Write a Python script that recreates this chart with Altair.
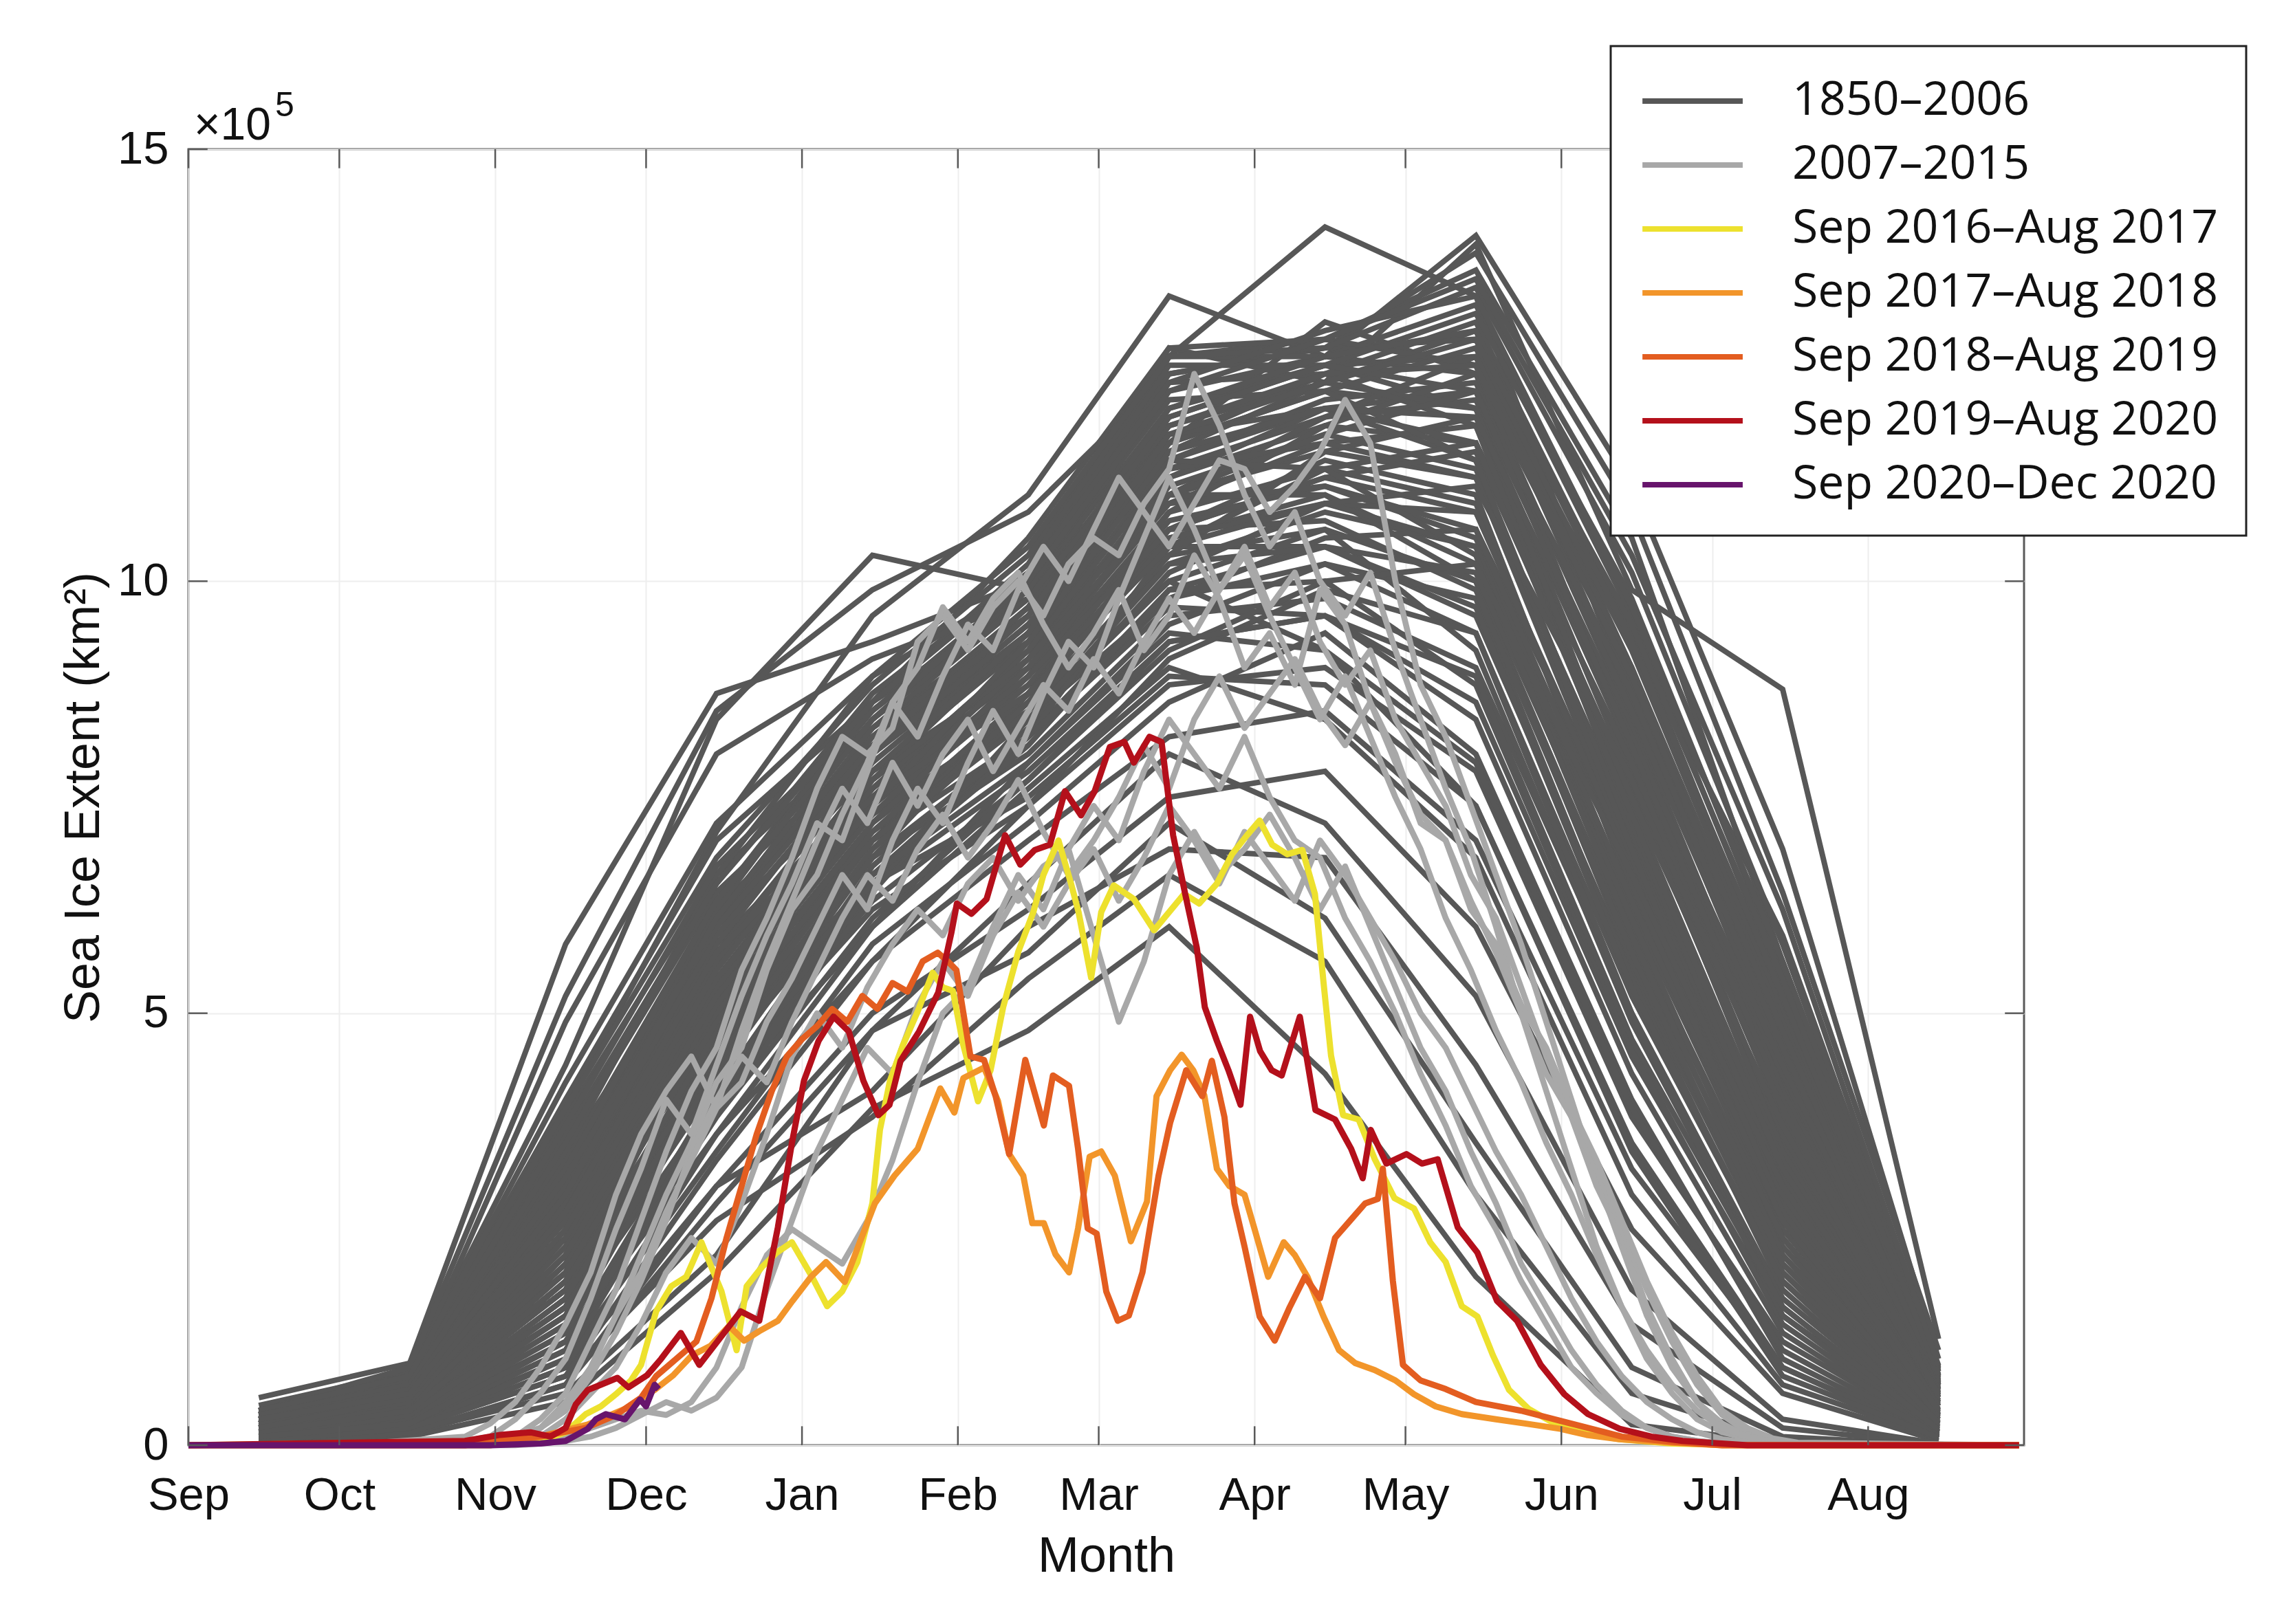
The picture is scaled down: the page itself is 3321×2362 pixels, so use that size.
import altair as alt
import pandas as pd

# ---------------- axis categories / labels ----------------
MONTH_LABELS = ["Sep", "Oct", "Nov", "Dec", "Jan", "Feb", "Mar", "Apr", "May", "Jun", "Jul", "Aug"]
MONTH_START_DAYS = [0, 30, 61, 91, 122, 153, 181, 212, 242, 273, 303, 334]   # days since 1 Sep
Y_TICKS = [0, 5, 10, 15]
SERIES = ["1850–2006", "2007–2015", "Sep 2016–Aug 2017", "Sep 2017–Aug 2018",
          "Sep 2018–Aug 2019", "Sep 2019–Aug 2020", "Sep 2020–Dec 2020"]
COLORS = ["#575757", "#a8a8a8", "#ede12e", "#f2952a", "#e35d20", "#b4101b", "#67146c"]

# ---------------- 1850–2006: monthly values (x10^5 km2), mid-month ----------------
DARK_DAYS = [14, 44, 75, 105, 136, 167, 195, 226, 256, 287, 317, 348]
DARK_TOP = [
    [0.55, 0.95, 5.8, 8.7, 9.3, 10.0, 11.6, 13.0, 12.4, 9.4, 5.9, 0.9],
    [0.46, 0.85, 4.4, 8.4, 10.3, 9.9, 12.6, 14.1, 13.3, 8.6, 5.1, 0.8],
    [0.30, 0.70, 3.9, 7.1, 9.6, 11.0, 13.3, 12.6, 14.0, 11.1, 6.9, 1.0],
    [0.22, 0.60, 3.0, 6.3, 8.6, 10.5, 12.7, 12.3, 13.9, 9.9, 8.75, 1.23],
    [0.36, 0.80, 4.9, 8.0, 9.1, 9.8, 12.6, 12.8, 13.6, 10.5, 5.6, 0.7],
    [0.40, 0.90, 5.2, 8.5, 9.9, 10.8, 12.4, 12.7, 13.8, 10.8, 6.4, 1.1],
]
DARK_LOW = [
    [0.00, 0.10, 0.5, 2.0, 3.9, 4.8, 6.0, 4.3, 1.95, 0.24, 0.02, 0.0],
    [0.05, 0.20, 0.8, 2.6, 3.8, 5.4, 6.6, 5.6, 2.9, 0.6, 0.05, 0.0],
    [0.00, 0.15, 0.6, 2.2, 4.8, 5.7, 7.2, 6.1, 3.5, 0.9, 0.1, 0.0],
    [0.02, 0.12, 0.7, 3.0, 4.1, 6.0, 6.9, 6.8, 4.4, 1.4, 0.2, 0.01],
]
DARK_MID_A = [
    [0.05, 0.20, 0.9, 3.0, 5.0, 6.2, 7.5, 7.8, 6.0, 2.5, 0.6, 0.05],
    [0.10, 0.30, 1.2, 3.6, 5.6, 7.0, 8.2, 8.5, 7.0, 3.2, 0.9, 0.10],
    [0.00, 0.15, 0.7, 2.8, 4.8, 6.5, 8.0, 7.2, 5.2, 1.8, 0.3, 0.02],
    [0.15, 0.40, 1.8, 4.2, 6.2, 7.4, 8.8, 9.0, 7.8, 3.8, 1.2, 0.15],
    [0.20, 0.45, 2.2, 4.8, 6.5, 7.8, 9.3, 9.6, 8.6, 4.5, 1.5, 0.20],
    [0.10, 0.35, 1.5, 4.0, 6.0, 7.6, 9.0, 8.4, 6.8, 2.9, 0.7, 0.08],
    [0.25, 0.55, 2.6, 5.2, 7.0, 8.2, 9.8, 10.2, 9.4, 5.2, 1.9, 0.25],
    [0.05, 0.25, 1.0, 3.4, 5.8, 7.2, 8.6, 9.4, 8.0, 4.0, 1.0, 0.10],
    [0.30, 0.60, 3.0, 5.6, 7.3, 8.5, 10.0, 10.6, 10.0, 5.8, 2.2, 0.30],
    [0.15, 0.45, 2.0, 4.6, 6.8, 8.0, 9.6, 9.8, 9.0, 5.0, 1.7, 0.22],
    [0.20, 0.50, 2.4, 5.0, 7.2, 8.6, 10.2, 10.8, 10.4, 6.2, 2.5, 0.35],
    [0.10, 0.30, 1.4, 4.4, 6.6, 8.2, 9.9, 10.0, 8.8, 4.6, 1.4, 0.15],
    [0.35, 0.70, 3.4, 6.0, 7.8, 9.0, 10.6, 11.2, 10.8, 6.8, 2.8, 0.40],
    [0.20, 0.40, 1.9, 5.2, 7.5, 8.8, 10.4, 10.4, 9.6, 5.5, 2.0, 0.25],
    [0.25, 0.55, 2.8, 5.8, 7.6, 9.2, 11.0, 11.5, 11.2, 7.2, 3.2, 0.45],
    [0.05, 0.25, 1.1, 3.8, 6.4, 8.4, 10.0, 9.2, 7.4, 3.5, 0.9, 0.08],
    [0.30, 0.65, 3.2, 6.2, 8.0, 9.4, 11.2, 11.8, 11.6, 7.6, 3.5, 0.50],
    [0.15, 0.35, 1.6, 4.8, 7.0, 8.7, 10.5, 11.0, 10.2, 6.0, 2.3, 0.30],
    [0.40, 0.75, 3.8, 6.6, 8.3, 9.6, 11.4, 12.0, 12.2, 8.2, 4.0, 0.60],
]
DARK_MID_B = [
    [0.20, 0.50, 2.3, 5.4, 7.4, 8.9, 10.8, 11.3, 10.9, 6.6, 2.7, 0.35],
    [0.10, 0.30, 1.3, 4.5, 6.9, 8.5, 10.3, 10.6, 9.2, 4.9, 1.6, 0.18],
    [0.25, 0.60, 2.9, 6.0, 8.2, 9.7, 11.6, 12.2, 12.0, 8.0, 3.8, 0.55],
    [0.35, 0.70, 3.5, 6.4, 8.1, 9.3, 11.0, 11.0, 10.0, 5.6, 2.1, 0.28],
    [0.15, 0.40, 2.1, 5.0, 7.1, 8.4, 9.8, 10.5, 10.6, 6.9, 3.0, 0.40],
    [0.20, 0.45, 2.5, 5.6, 7.7, 9.1, 11.2, 12.0, 11.4, 7.0, 2.9, 0.38],
    [0.05, 0.20, 0.9, 3.6, 6.0, 7.9, 9.5, 10.2, 9.8, 5.4, 1.8, 0.20],
    [0.30, 0.65, 3.1, 6.1, 8.4, 9.9, 12.0, 12.5, 12.6, 8.6, 4.4, 0.65],
    [0.20, 0.50, 2.2, 5.3, 7.6, 9.0, 10.9, 11.6, 11.8, 7.8, 3.6, 0.50],
    [0.10, 0.35, 1.7, 4.7, 7.0, 8.6, 10.6, 11.4, 11.0, 6.4, 2.4, 0.30],
    [0.40, 0.80, 4.0, 7.0, 8.6, 9.8, 12.2, 12.6, 12.4, 8.4, 4.2, 0.62],
    [0.25, 0.55, 2.7, 5.9, 8.0, 9.5, 11.5, 12.3, 12.9, 9.0, 4.8, 0.72],
    [0.15, 0.40, 1.8, 5.1, 7.3, 8.8, 10.7, 11.1, 10.5, 6.3, 2.6, 0.32],
    [0.30, 0.60, 3.3, 6.3, 8.5, 10.0, 12.4, 12.7, 12.8, 8.8, 4.6, 0.70],
    [0.05, 0.25, 1.2, 4.1, 6.7, 8.3, 10.1, 10.9, 10.8, 6.7, 2.8, 0.36],
    [0.20, 0.45, 2.4, 5.5, 7.8, 9.3, 11.3, 11.9, 12.1, 8.3, 4.1, 0.58],
    [0.35, 0.70, 3.6, 6.5, 8.7, 10.1, 12.5, 12.5, 12.0, 7.7, 3.4, 0.48],
    [0.10, 0.30, 1.5, 4.6, 7.0, 8.5, 10.3, 11.5, 11.9, 8.1, 4.3, 0.66],
    [0.25, 0.55, 2.6, 5.7, 7.9, 9.4, 11.6, 12.4, 13.0, 9.4, 5.1, 0.78],
]
DARK_MID_C = [
    [0.15, 0.35, 1.9, 5.0, 7.4, 9.1, 11.1, 11.7, 11.3, 7.1, 3.1, 0.42],
    [0.30, 0.65, 3.0, 6.2, 8.6, 10.2, 12.6, 12.6, 13.2, 9.6, 5.3, 0.80],
    [0.20, 0.50, 2.0, 5.2, 7.5, 9.2, 11.4, 12.1, 12.3, 8.5, 4.5, 0.68],
    [0.10, 0.30, 1.4, 4.3, 6.8, 8.7, 10.8, 11.8, 12.4, 8.9, 4.7, 0.74],
    [0.40, 0.80, 3.9, 6.8, 8.8, 10.3, 12.7, 12.8, 12.5, 8.0, 3.9, 0.56],
    [0.25, 0.60, 2.8, 6.0, 8.3, 9.8, 11.9, 12.5, 13.1, 9.8, 5.5, 0.85],
    [0.15, 0.40, 2.2, 5.4, 7.7, 9.4, 11.6, 12.2, 12.7, 9.2, 5.0, 0.76],
    [0.05, 0.20, 1.0, 3.9, 6.5, 8.2, 10.4, 11.3, 11.6, 7.9, 3.8, 0.52],
    [0.30, 0.70, 3.4, 6.6, 8.9, 10.4, 12.6, 12.7, 13.4, 10.1, 5.8, 0.88],
    [0.20, 0.45, 2.5, 5.6, 8.0, 9.6, 11.8, 12.3, 12.0, 7.4, 3.3, 0.46],
    [0.10, 0.35, 1.6, 4.9, 7.2, 8.9, 11.0, 11.9, 12.6, 9.0, 4.9, 0.72],
    [0.35, 0.75, 3.7, 6.7, 8.5, 9.9, 12.3, 12.4, 11.8, 7.2, 3.0, 0.40],
    [0.20, 0.50, 2.3, 5.3, 7.6, 9.2, 11.3, 11.6, 11.2, 6.8, 2.9, 0.38],
    [0.15, 0.40, 1.8, 4.8, 7.1, 8.7, 10.6, 11.2, 11.5, 7.5, 3.7, 0.55],
    [0.25, 0.55, 2.7, 5.8, 8.1, 9.7, 12.0, 12.6, 12.9, 9.3, 5.2, 0.80],
    [0.10, 0.30, 1.3, 4.4, 6.9, 8.6, 10.5, 10.9, 10.4, 6.0, 2.4, 0.30],
    [0.30, 0.60, 3.0, 6.1, 8.2, 9.6, 11.7, 12.0, 11.6, 7.3, 3.2, 0.45],
    [0.05, 0.25, 1.1, 4.0, 6.6, 8.1, 9.9, 10.4, 10.1, 6.1, 2.2, 0.26],
    [0.20, 0.45, 2.1, 5.1, 7.3, 9.0, 11.0, 11.7, 12.2, 8.7, 4.6, 0.70],
]
DARK_MID_D = [
    [0.40, 0.80, 4.2, 7.2, 8.9, 10.0, 12.1, 12.2, 11.4, 6.9, 2.7, 0.34],
    [0.15, 0.35, 1.7, 4.6, 6.8, 8.2, 9.7, 9.6, 8.4, 4.3, 1.3, 0.14],
    [0.25, 0.55, 2.6, 5.6, 7.7, 9.1, 10.9, 11.1, 10.6, 6.5, 2.6, 0.33],
    [0.10, 0.30, 1.5, 4.5, 6.6, 7.9, 9.4, 9.2, 7.9, 3.9, 1.1, 0.12],
    [0.30, 0.65, 3.2, 6.3, 8.4, 9.8, 11.8, 12.4, 12.5, 8.9, 4.8, 0.74],
    [0.20, 0.50, 2.4, 5.4, 7.5, 8.9, 10.6, 10.7, 9.9, 5.7, 2.0, 0.24],
    [0.15, 0.40, 2.0, 4.9, 7.0, 8.4, 10.2, 10.4, 9.7, 5.3, 1.9, 0.22],
    [0.35, 0.70, 3.5, 6.5, 8.6, 10.1, 12.3, 12.9, 13.3, 9.7, 5.6, 0.86],
    [0.05, 0.20, 0.8, 3.3, 5.6, 7.4, 9.1, 9.9, 9.4, 5.0, 1.5, 0.16],
    [0.25, 0.60, 2.9, 5.9, 8.0, 9.5, 11.4, 11.3, 10.3, 5.9, 2.1, 0.26],
    [0.20, 0.45, 2.2, 5.2, 7.4, 9.3, 11.5, 12.0, 11.9, 8.2, 4.4, 0.64],
    [0.10, 0.35, 1.6, 4.2, 6.3, 7.7, 9.2, 10.0, 10.2, 6.6, 3.0, 0.40],
    [0.30, 0.65, 3.1, 6.0, 8.1, 9.6, 11.9, 12.5, 12.2, 8.1, 4.0, 0.60],
    [0.15, 0.40, 1.9, 4.5, 6.5, 7.5, 8.9, 8.8, 7.4, 3.4, 0.8, 0.09],
    [0.25, 0.50, 2.5, 5.5, 7.8, 9.4, 11.7, 12.3, 12.8, 9.5, 5.4, 0.82],
    [0.20, 0.55, 2.7, 5.7, 7.5, 8.7, 10.4, 10.9, 11.1, 7.7, 3.9, 0.58],
    [0.10, 0.25, 1.2, 3.8, 6.1, 7.7, 9.3, 9.6, 8.9, 4.7, 1.6, 0.18],
    [0.30, 0.60, 2.9, 6.1, 8.4, 10.0, 12.2, 12.8, 13.5, 10.3, 6.2, 0.92],
]

# ---------------- 2007–2015: values every 5 days ----------------
LG_DAYS = [0, 30] + list(range(55, 321, 5)) + [364]
LG_2007 = [0.0, 0.0,
           0.02, 0.05, 0.1, 0.3, 0.6, 1.2, 1.8, 2.6, 3.4, 4.1,
           4.6, 5.5, 6.1, 6.8, 7.6, 8.2, 8.0, 8.3, 9.3, 9.6,
           9.2, 9.7, 10.0, 9.6, 10.2, 10.5, 10.3, 10.9, 11.3, 12.4,
           11.8, 11.0, 10.4, 10.8, 10.0, 9.6, 10.1, 9.2, 8.4, 7.6,
           6.9, 6.0, 5.0, 4.1, 3.2, 2.3, 1.6, 1.0, 0.6, 0.3,
           0.15, 0.08, 0.04, 0.02,
           0.0]
LG_2008 = [0.0, 0.0,
           0.0, 0.05, 0.1, 0.2, 0.5, 0.9, 1.5, 2.2, 2.9, 3.5,
           4.2, 4.6, 5.5, 6.2, 6.6, 7.3, 7.9, 8.6, 8.2, 8.9,
           9.5, 9.2, 9.9, 10.4, 10.0, 10.6, 11.2, 10.8, 10.4, 10.9,
           11.4, 11.3, 10.8, 11.1, 11.5, 12.1, 11.6, 10.0, 8.8, 8.2,
           7.4, 6.6, 5.8, 4.9, 4.0, 3.1, 2.3, 1.5, 0.9, 0.5,
           0.25, 0.1, 0.05, 0.02,
           0.0]
LG_2009 = [0.0, 0.0,
           0.05, 0.1, 0.3, 0.6, 1.0, 1.7, 2.5, 3.2, 4.0, 3.6,
           4.4, 5.2, 5.9, 6.5, 7.2, 7.0, 7.8, 8.6, 9.0, 9.7,
           9.3, 9.8, 10.1, 9.5, 9.0, 9.4, 9.9, 9.2, 9.6, 10.3,
           9.8, 9.0, 9.4, 8.8, 9.9, 9.5, 8.6, 8.0, 7.2, 7.0,
           6.3, 5.7, 5.0, 4.3, 3.8, 3.0, 2.4, 1.6, 1.0, 0.5,
           0.2, 0.08, 0.03, 0.01,
           0.0]
LG_2010 = [0.0, 0.0,
           0.0, 0.02, 0.05, 0.1, 0.3, 0.6, 0.9, 1.4, 2.0, 2.4,
           2.1, 2.8, 3.6, 4.5, 5.0, 4.6, 5.3, 5.8, 6.2, 5.9,
           6.5, 6.8, 6.3, 6.7, 6.9, 5.9, 4.9, 5.6, 6.6, 7.1,
           6.6, 6.9, 7.3, 6.8, 6.2, 6.7, 6.0, 5.3, 4.6, 4.1,
           3.4, 2.8, 2.1, 1.6, 1.1, 0.7, 0.4, 0.2, 0.1, 0.05,
           0.02, 0.01, 0.0, 0.0,
           0.0]
LG_2011 = [0.0, 0.0,
           0.0, 0.0, 0.02, 0.05, 0.1, 0.2, 0.3, 0.4, 0.35, 0.5,
           0.9, 1.6, 2.2, 2.5, 2.3, 2.1, 2.6, 3.3, 4.2, 5.0,
           5.3, 6.0, 6.6, 6.2, 6.9, 7.4, 7.0, 7.8, 8.4, 8.0,
           7.6, 8.2, 7.5, 7.0, 6.8, 6.1, 5.6, 5.0, 4.3, 3.7,
           3.0, 2.5, 1.9, 1.4, 0.9, 0.6, 0.35, 0.2, 0.1, 0.05,
           0.02, 0.01, 0.0, 0.0,
           0.0]
LG_2012 = [0.0, 0.0,
           0.1, 0.25, 0.5, 0.9, 1.4, 2.0, 2.9, 3.6, 4.1, 4.5,
           3.9, 4.8, 5.6, 6.3, 7.0, 7.6, 7.2, 7.9, 7.4, 8.0,
           8.4, 7.8, 8.3, 8.8, 8.5, 9.1, 8.7, 9.3, 9.8, 9.4,
           9.9, 10.4, 9.7, 10.1, 9.3, 8.8, 9.2, 8.4, 7.9, 7.4,
           6.6, 6.1, 5.3, 4.5, 3.8, 3.2, 2.5, 1.8, 1.2, 0.7,
           0.35, 0.15, 0.05, 0.02,
           0.0]
LG_2013 = [0.0, 0.0,
           0.0, 0.05, 0.1, 0.2, 0.4, 0.8, 1.3, 1.9, 2.6, 3.4,
           4.0, 4.5, 4.2, 4.9, 5.5, 6.1, 6.6, 6.3, 6.9, 7.3,
           6.8, 7.2, 7.7, 7.1, 6.6, 7.0, 7.5, 8.1, 7.6, 8.4,
           8.9, 8.3, 8.7, 9.1, 8.5, 8.1, 8.6, 7.9, 7.3, 7.0,
           6.2, 5.8, 5.1, 4.6, 3.9, 3.3, 2.6, 1.9, 1.3, 0.8,
           0.4, 0.2, 0.08, 0.03,
           0.0]
LG_2014 = [0.0, 0.0,
           0.0, 0.02, 0.08, 0.2, 0.45, 0.9, 1.5, 2.0, 2.7, 3.3,
           3.9, 4.2, 4.9, 5.4, 6.0, 6.6, 6.2, 7.0, 7.6, 7.2,
           7.9, 8.5, 8.0, 8.7, 9.3, 9.0, 9.8, 10.5, 11.2, 10.6,
           9.9, 10.3, 9.6, 9.0, 8.4, 8.9, 8.2, 7.5, 6.9, 6.1,
           5.5, 4.8, 4.2, 3.5, 2.9, 2.2, 1.6, 1.1, 0.7, 0.4,
           0.2, 0.1, 0.04, 0.02,
           0.0]
LG_2015 = [0.0, 0.0,
           0.0, 0.0, 0.0, 0.02, 0.05, 0.1, 0.2, 0.35, 0.5, 0.4,
           0.55, 0.9, 1.8, 2.6, 3.4, 4.0, 4.6, 4.3, 5.1, 5.6,
           5.2, 5.9, 6.4, 6.0, 6.5, 6.9, 6.3, 6.8, 7.4, 7.0,
           6.5, 7.1, 6.7, 6.3, 7.0, 6.6, 6.1, 5.6, 5.0, 4.6,
           4.0, 3.4, 2.9, 2.3, 1.7, 1.2, 0.8, 0.5, 0.3, 0.15,
           0.07, 0.03, 0.01, 0.0,
           0.0]

# ---------------- recent seasons (day since 1 Sep, value) ----------------
D_2016 = [0, 70, 75, 79, 82, 85, 88, 90, 93, 96, 99, 102, 104, 106, 109, 111, 114, 117, 120, 124,
          127, 130, 133, 136, 137.5, 139.5, 142, 145, 148, 150, 152, 154, 157, 159.5, 162, 165, 168, 170, 173, 175.5,
          177, 179.5, 181.5, 184, 188, 192, 195, 198, 201, 204.5, 207.5, 210.5, 213, 215.5, 218.5, 221.5, 224, 225.7, 227.2, 229.6,
          232.7, 235.9, 239.8, 243.7, 246.9, 250, 253.2, 256.3, 259.4, 262.6, 266.5, 272, 278.3, 284.6, 295, 310, 364]
V_2016 = [0, 0.05, 0.15, 0.36, 0.45, 0.59, 0.75, 0.93, 1.55, 1.84, 1.95, 2.35, 2.06, 1.78, 1.1, 1.84, 2.06, 2.23, 2.35, 1.95,
          1.61, 1.78, 2.12, 2.8, 3.65, 4.22, 4.62, 5.02, 5.47, 5.3, 5.26, 4.65, 3.98, 4.34, 5.07, 5.71, 6.17, 6.6, 7.0, 6.5,
          6.17, 5.41, 6.17, 6.48, 6.32, 5.96, 6.17, 6.38, 6.27, 6.5, 6.84, 7.06, 7.23, 6.95, 6.84, 6.89, 6.38, 5.36, 4.51, 3.82,
          3.77, 3.31, 2.86, 2.74, 2.35, 2.12, 1.61, 1.49, 1.04, 0.64, 0.42, 0.24, 0.13, 0.07, 0.02, 0.0, 0.0]
D_2017 = [0, 60, 70, 79.4, 86.8, 92.7, 96.4, 100.1, 103.8, 107.5, 110.5, 113.5, 117.2, 120.1, 123.8, 126.8, 130.5, 133.5, 136.5, 140.4,
          145, 149.5, 152.3, 154.1, 158.2, 161, 163.2, 166, 167.8, 170.1, 172.4, 175.1, 176.9, 179.2, 181.5, 184.2, 187.4, 190.6, 192.5, 195.2,
          197.5, 199.8, 202, 204.5, 207, 210, 212, 214.7, 217.8, 220, 222.5, 225.7, 228.8, 232, 235.9, 240, 243.7, 248, 253.2, 260,
          266, 272.8, 278, 284.6, 295, 305, 364]
V_2017 = [0, 0.0, 0.1, 0.24, 0.42, 0.64, 0.81, 1.04, 1.15, 1.38, 1.21, 1.32, 1.44, 1.67, 1.95, 2.12, 1.89, 2.35, 2.8, 3.12,
          3.43, 4.13, 3.85, 4.25, 4.37, 3.98, 3.37, 3.12, 2.57, 2.57, 2.21, 2.0, 2.51, 3.34, 3.4, 3.12, 2.36, 2.82, 4.04, 4.34,
          4.52, 4.34, 4.05, 3.2, 3.0, 2.9, 2.5, 1.95, 2.35, 2.2, 1.95, 1.49, 1.1, 0.95, 0.87, 0.75, 0.59, 0.45, 0.36, 0.3,
          0.25, 0.19, 0.12, 0.07, 0.03, 0.0, 0.0]
D_2018 = [0, 55, 60, 70, 79, 85, 90, 93, 97, 101, 104, 107, 110, 113, 116, 119, 122, 125, 128, 131,
          134, 137, 140, 143, 146, 149, 151, 152.7, 155.5, 158.2, 160.5, 163.2, 166.4, 170.1, 171.9, 175.1, 176.9, 178.8, 180.6, 182.5,
          184.8, 187, 189.7, 192.9, 195.2, 198.4, 201.6, 203.5, 206, 208, 210, 213, 216, 219, 222, 225, 228, 231, 234, 236.5,
          237.5, 239.5, 241.5, 245, 250, 256, 265, 275, 285, 295, 305, 364]
V_2018 = [0, 0.0, 0.05, 0.1, 0.2, 0.35, 0.55, 0.8, 1.0, 1.2, 1.7, 2.4, 3.0, 3.6, 4.1, 4.5, 4.7, 4.85, 5.05, 4.9,
          5.2, 5.05, 5.35, 5.25, 5.6, 5.7, 5.6, 5.5, 4.5, 4.46, 4.04, 3.37, 4.46, 3.7, 4.28, 4.16, 3.43, 2.51, 2.45, 1.78,
          1.44, 1.5, 2.0, 3.12, 3.73, 4.34, 4.04, 4.45, 3.8, 2.8, 2.3, 1.49, 1.21, 1.6, 1.95, 1.7, 2.4, 2.6, 2.8, 2.85,
          3.2, 1.9, 0.93, 0.75, 0.65, 0.5, 0.4, 0.25, 0.1, 0.04, 0.0, 0.0]
D_2019 = [0, 55, 62, 68, 72, 75, 77, 79.4, 82, 85.3, 87.5, 91.2, 94, 97.9, 101.6, 105.3, 109.8, 113.5, 117.2, 120,
          122.4, 125.3, 128.3, 131.3, 134.2, 137.2, 139.4, 141.6, 145.3, 149.1, 151.7, 152.8, 155.7, 158.7, 162.4, 165.4, 168.3, 171.3, 174.3, 177.5,
          180.2, 183.2, 186.1, 188, 191.1, 193.5, 195.8, 198.2, 200.5, 202.1, 204.5, 206.8, 209.2, 211.1, 213.1, 215.4, 217.4, 221, 224.1, 228,
          231.2, 233.5, 235.1, 238.2, 242.2, 245.3, 248.4, 252.4, 256.3, 260.2, 264.2, 268.9, 273.6, 278.3, 284.6, 290.9, 297.1, 310, 364]
V_2019 = [0, 0.05, 0.12, 0.15, 0.1, 0.2, 0.47, 0.64, 0.7, 0.78, 0.67, 0.81, 1.0, 1.3, 0.93, 1.21, 1.55, 1.44, 2.52, 3.5,
          4.22, 4.68, 4.96, 4.79, 4.22, 3.82, 3.94, 4.45, 4.79, 5.24, 5.93, 6.27, 6.15, 6.32, 7.06, 6.72, 6.89, 6.95, 7.57, 7.29,
          7.57, 8.08, 8.14, 7.9, 8.2, 8.14, 7.06, 6.38, 5.76, 5.07, 4.68, 4.34, 3.94, 4.96, 4.56, 4.34, 4.28, 4.96, 3.88, 3.77,
          3.43, 3.09, 3.65, 3.26, 3.37, 3.26, 3.31, 2.52, 2.23, 1.67, 1.44, 0.93, 0.59, 0.36, 0.19, 0.1, 0.05, 0.0, 0.0]
D_2020 = [0, 60, 70, 75, 79.4, 81, 83, 86.8, 89.8, 91, 92.7, 93.5]
V_2020 = [0, 0.0, 0.02, 0.05, 0.19, 0.3, 0.36, 0.3, 0.53, 0.45, 0.7, 0.65]

# ---------------- build tables ----------------
dark_rows = []
for gname, group in [("t", DARK_TOP), ("l", DARK_LOW), ("a", DARK_MID_A), ("b", DARK_MID_B),
                     ("c", DARK_MID_C), ("d", DARK_MID_D)]:
    for i, row in enumerate(group):
        assert len(row) == len(DARK_DAYS)
        for d, v in zip(DARK_DAYS, row):
            dark_rows.append({"series": SERIES[0], "line": f"{gname}{i}", "day": d, "value": v})
dark_df = pd.DataFrame(dark_rows)

lg_rows = []
for name, vals in [("2007", LG_2007), ("2008", LG_2008), ("2009", LG_2009), ("2010", LG_2010),
                   ("2011", LG_2011), ("2012", LG_2012), ("2013", LG_2013), ("2014", LG_2014),
                   ("2015", LG_2015)]:
    assert len(vals) == len(LG_DAYS), name
    for d, v in zip(LG_DAYS, vals):
        lg_rows.append({"series": SERIES[1], "line": name, "day": d, "value": v})
lg_df = pd.DataFrame(lg_rows)

recent = []
for s, days, vals in [(SERIES[2], D_2016, V_2016), (SERIES[3], D_2017, V_2017), (SERIES[4], D_2018, V_2018),
                      (SERIES[5], D_2019, V_2019), (SERIES[6], D_2020, V_2020)]:
    assert len(days) == len(vals), s
    recent.append((s, pd.DataFrame({"series": s, "day": days, "value": vals})))

# ---------------- encodings ----------------
label_expr = ("[" + ",".join(f"'{m}'" for m in MONTH_LABELS) + "][indexof(["
              + ",".join(str(d) for d in MONTH_START_DAYS) + "], datum.value)]")

x_enc = alt.X("day:Q", scale=alt.Scale(domain=[0, 365], nice=False, zero=False),
              axis=alt.Axis(values=MONTH_START_DAYS, labelExpr=label_expr, title="Month",
                            labelPadding=40, titlePadding=20, grid=True, ticks=False,
                            tickSize=0, domain=False, labelFlush=False))
y_enc = alt.Y("value:Q", scale=alt.Scale(domain=[0, 15], nice=False, zero=True),
              axis=alt.Axis(values=Y_TICKS, title="Sea Ice Extent (km²)", labelPadding=29,
                            titlePadding=12, grid=True, ticks=False, tickSize=0, domain=False,
                            labelFlush=False))

color_enc = alt.Color(
    "series:N",
    scale=alt.Scale(domain=SERIES, range=COLORS),
    legend=alt.Legend(title=None, orient="none", legendX=2068, legendY=-150, direction="vertical",
                      symbolType="M-0.94,0H3.11", symbolSize=5184, symbolStrokeWidth=8,
                      labelFont="Open Sans", labelFontSize=68, labelOffset=144, labelLimit=2000,
                      labelColor="#111111", rowPadding=19, padding=40, strokeColor="#222222",
                      fillColor="white", symbolOpacity=1),
)

layers = []
layers.append(alt.Chart(dark_df).mark_line(strokeWidth=8).encode(
    x=x_enc, y=y_enc, color=color_enc, detail="line:N"))
layers.append(alt.Chart(lg_df).mark_line(strokeWidth=8.5, strokeJoin="round").encode(
    x=x_enc, y=y_enc, color=color_enc, detail="line:N"))
for s, df in recent:
    layers.append(alt.Chart(df).mark_line(strokeWidth=9, strokeJoin="round").encode(
        x=x_enc, y=y_enc, color=color_enc))

# inward tick marks (MATLAB style box)
AXIS_COLOR = "#5a5a5a"
TICK_LEN_Y = 0.22
TICK_LEN_X = 3.8
xt_bottom = pd.DataFrame({"day": MONTH_START_DAYS, "value": [0] * 12, "value2": [TICK_LEN_Y] * 12})
xt_top = pd.DataFrame({"day": MONTH_START_DAYS, "value": [15] * 12, "value2": [15 - TICK_LEN_Y] * 12})
yt_left = pd.DataFrame({"value": Y_TICKS, "day": [0] * 4, "day2": [TICK_LEN_X] * 4})
yt_right = pd.DataFrame({"value": Y_TICKS, "day": [365] * 4, "day2": [365 - TICK_LEN_X] * 4})
for df in (xt_bottom, xt_top):
    layers.append(alt.Chart(df).mark_rule(color=AXIS_COLOR, strokeWidth=2.5).encode(
        x=x_enc, y=y_enc, y2="value2:Q"))
for df in (yt_left, yt_right):
    layers.append(alt.Chart(df).mark_rule(color=AXIS_COLOR, strokeWidth=2.5).encode(
        x=x_enc, x2="day2:Q", y=y_enc))

# exponent annotation "x10^5"
annot = pd.DataFrame({"day": [0], "value": [15]})
layers.append(alt.Chart(annot).mark_text(text="×10", align="left", baseline="alphabetic", dx=8, dy=-14,
                                         font="Liberation Sans", fontSize=66, color="#111111").encode(
    x=x_enc, y=y_enc))
layers.append(alt.Chart(annot).mark_text(text="5", align="left", baseline="alphabetic", dx=126, dy=-48,
                                         font="Liberation Sans", fontSize=50, color="#111111").encode(
    x=x_enc, y=y_enc))

chart = alt.layer(*layers).properties(
    width=2669, height=1885,
    autosize=alt.AutoSizeParams(type="none"),
    padding={"left": 266, "top": 209, "right": 370, "bottom": 252},
).configure_view(
    stroke=AXIS_COLOR, strokeWidth=3
).configure_axis(
    labelFont="Liberation Sans", labelFontSize=67, labelColor="#111111",
    titleFont="Liberation Sans", titleFontSize=72, titleFontWeight="normal", titleColor="#111111",
    gridColor="#eeeeee", gridWidth=2
).configure_legend(
    strokeWidth=3
)

chart.save("out.html", embed_options={"renderer": "svg", "actions": False})
